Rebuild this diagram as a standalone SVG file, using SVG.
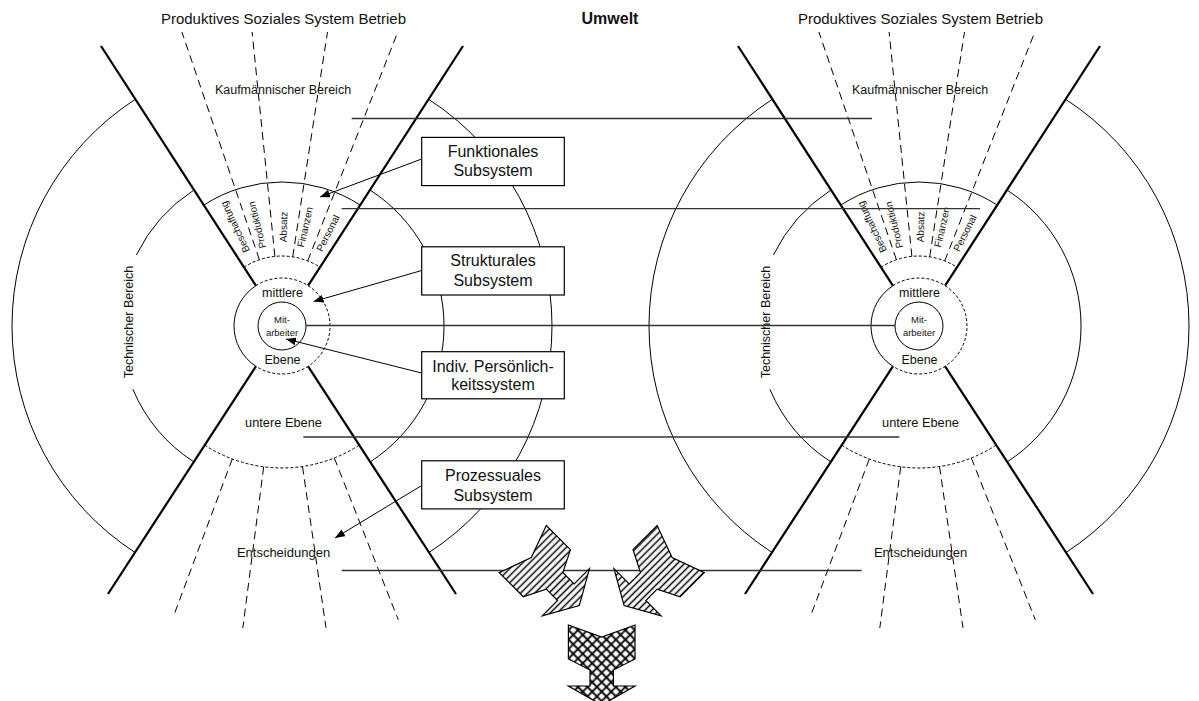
<svg xmlns="http://www.w3.org/2000/svg" width="1199" height="701" viewBox="0 0 1199 701">
<style>
  text{font-family:"Liberation Sans",Arial,Helvetica,sans-serif;fill:#111}
  .thick{stroke:#000;stroke-width:2.2;fill:none;stroke-linecap:butt}
  .arc{stroke:#000;stroke-width:1;fill:none}
  .dash{stroke:#000;stroke-width:1;fill:none;stroke-dasharray:8 5}
  .fine{stroke:#000;stroke-width:1;fill:none;stroke-dasharray:3 2}
  .level{stroke:#333;stroke-width:1.3;fill:none}
  .ptr{stroke:#000;stroke-width:1;fill:none;marker-end:url(#ah)}
  .box rect{fill:#fff;stroke:#000;stroke-width:1.2}
  .box text{font-size:16px;text-anchor:middle}
  .mid{text-anchor:middle}
  .seg{font-size:10px;text-anchor:middle;dominant-baseline:central}
  .shape{stroke:#000;stroke-width:1.2;stroke-linejoin:miter}
</style>
<defs>
  <marker id="ah" viewBox="0 0 10 8" refX="10" refY="4" markerWidth="10" markerHeight="8" markerUnits="userSpaceOnUse" orient="auto">
    <path d="M0,0L10,4L0,8z" fill="#000"/>
  </marker>
  <pattern id="hatch" width="5" height="5" patternUnits="userSpaceOnUse" patternTransform="rotate(45)">
    <rect width="5" height="5" fill="#fff"/>
    <line x1="2.5" y1="0" x2="2.5" y2="5" stroke="#000" stroke-width="1.5"/>
  </pattern>
  <pattern id="cross" width="6.7" height="6.7" patternUnits="userSpaceOnUse" patternTransform="rotate(45)">
    <rect width="6.7" height="6.7" fill="#fff"/>
    <path d="M3.35,0V6.7M0,3.35H6.7" stroke="#000" stroke-width="1.8"/>
  </pattern>

  <!-- one production system: rings, sectors and their labels -->
  <g id="system">
    <text class="mid" x="283.5" y="24" font-size="15">Produktives Soziales System Betrieb</text>
    <text class="mid" x="283" y="93.5" font-size="12.5">Kaufmännischer Bereich</text>

    <!-- sector boundaries -->
    <line class="thick" x1="255.9" y1="285.7" x2="101" y2="46"/>
    <line class="thick" x1="308.1" y1="285.7" x2="463" y2="46"/>
    <line class="thick" x1="255.9" y1="366.3" x2="108" y2="594"/>
    <line class="thick" x1="308.1" y1="366.3" x2="456" y2="594"/>

    <!-- outer and inner rings, left and right -->
    <path class="arc" d="M134.96,99.55A270,270 0 0 0 134.96,552.45"/>
    <path class="arc" d="M429.04,99.55A270,270 0 0 1 429.04,552.45"/>
    <path class="arc" d="M193.8,190.1A162,162 0 0 0 136.4,255"/>
    <path class="arc" d="M132.9,389.3A162,162 0 0 0 193.8,461.9"/>
    <path class="arc" d="M370.2,190.1A162,162 0 0 1 370.2,461.9"/>
    <text class="mid" font-size="12.5" dominant-baseline="central" transform="translate(129,322) rotate(-90)">Technischer Bereich</text>

    <!-- functional fan -->
    <path class="arc" d="M203.6,205.2A144,144 0 0 1 360.4,205.2"/>
    <path class="fine" d="M243.9,267.3A70,70 0 0 1 320.1,267.3"/>
    <line class="dash" x1="259.4" y1="259.7" x2="181.9" y2="32"/>
    <line class="dash" x1="274.9" y1="256.4" x2="252.1" y2="32"/>
    <line class="dash" x1="292.7" y1="256.8" x2="327.5" y2="32"/>
    <line class="dash" x1="307.7" y1="260.9" x2="397.8" y2="32"/>
    <text class="seg" transform="translate(235,227) rotate(-115.3)">Beschaffung</text>
    <text class="seg" transform="translate(257,225) rotate(-104)">Produktion</text>
    <text class="seg" transform="translate(283.5,227) rotate(-89)">Absatz</text>
    <text class="seg" transform="translate(305,227) rotate(-77)">Finanzen</text>
    <text class="seg" transform="translate(328,233) rotate(-63.5)">Personal</text>

    <!-- middle level and employee -->
    <path class="arc" d="M255.86,285.74A48,48 0 0 0 255.86,366.26"/>
    <path class="fine" d="M255.86,285.74A48,48 0 1 1 255.86,366.26"/>
    <circle class="arc" cx="282" cy="326" r="24"/>
    <text class="mid" x="282.5" y="296.5" font-size="12.5">mittlere</text>
    <text class="mid" x="282.5" y="364" font-size="12.5">Ebene</text>
    <text class="mid" x="282" y="323" font-size="9.5">Mit-</text>
    <text class="mid" x="282" y="335.5" font-size="9.5">arbeiter</text>

    <!-- lower level and decisions -->
    <path class="fine" d="M204.7,445.1A142,142 0 0 0 359.3,445.1"/>
    <line class="dash" x1="232.3" y1="459" x2="174.5" y2="613.6"/>
    <line class="dash" x1="263.7" y1="466.8" x2="242.8" y2="628"/>
    <line class="dash" x1="302.5" y1="466.5" x2="326" y2="627.8"/>
    <line class="dash" x1="334.3" y1="458" x2="398.3" y2="619.8"/>
    <text class="mid" x="283.5" y="426.5" font-size="12.8">untere Ebene</text>
    <text class="mid" x="283.5" y="556.5" font-size="13">Entscheidungen</text>
  </g>
</defs>

<g id="system-left"><use href="#system"/></g>
<g id="system-right"><use href="#system" x="637"/></g>

<text id="umwelt" class="mid" x="610" y="24" font-size="16" font-weight="bold">Umwelt</text>

<!-- level lines joining both systems -->
<g id="connectors">
  <line class="level" x1="351.7" y1="118.5" x2="872" y2="118.5"/>
  <line class="level" x1="341.7" y1="208.6" x2="980" y2="208.6"/>
  <line class="level" x1="306" y1="325.5" x2="895" y2="325.5"/>
  <line class="level" x1="303.3" y1="437" x2="899.3" y2="437"/>
  <line class="level" x1="341.7" y1="570.5" x2="861.7" y2="570.5"/>
  <line class="ptr" x1="421.7" y1="159" x2="320" y2="197"/>
  <line class="ptr" x1="421.7" y1="270.5" x2="313.5" y2="301.5"/>
  <line class="ptr" x1="421.7" y1="373" x2="286" y2="339"/>
  <line class="ptr" x1="421.7" y1="485.5" x2="335" y2="538"/>
</g>

<g id="box-funktional" class="box">
  <rect x="421.7" y="137.4" width="142.6" height="48.2"/>
  <text x="493" y="156.5">Funktionales</text>
  <text x="493" y="176">Subsystem</text>
</g>
<g id="box-struktural" class="box">
  <rect x="421.7" y="246.8" width="142.6" height="48.2"/>
  <text x="493" y="265.5">Strukturales</text>
  <text x="493" y="285.5">Subsystem</text>
</g>
<g id="box-individuum" class="box">
  <rect x="421.7" y="351.7" width="142.6" height="47.1"/>
  <text x="493" y="371.5">Indiv. Persönlich-</text>
  <text x="493" y="390">keitssystem</text>
</g>
<g id="box-prozessual" class="box">
  <rect x="421.7" y="460.8" width="142.6" height="48.1"/>
  <text x="493" y="480.5">Prozessuales</text>
  <text x="493" y="500.5">Subsystem</text>
</g>

<!-- converging block arrows -->
<g id="arrow-left">
  <polygon class="shape" fill="url(#hatch)" points="499.2,572.6 531.3,557.6 546.3,525.5 570.4,549.6 562.9,572.6 574.2,583.9 589.4,568.7 579.3,605.6 542.4,615.8 557.6,600.5 546.3,589.2 523.3,596.7"/>
</g>
<g id="arrow-right">
  <polygon class="shape" fill="url(#hatch)" points="704.2,572.6 672.1,557.6 657.1,525.5 633,549.6 640.5,572.6 629.2,583.9 614,568.7 624.1,605.6 661,615.8 645.8,600.5 657.1,589.2 680.1,596.7"/>
</g>
<g id="arrow-down">
  <polygon class="shape" fill="url(#cross)" points="568.4,625 601.7,637 635,625 635,659 613.4,670 613.4,686 635,686 601.7,705 568.4,686 590,686 590,670 568.4,659"/>
</g>
</svg>
